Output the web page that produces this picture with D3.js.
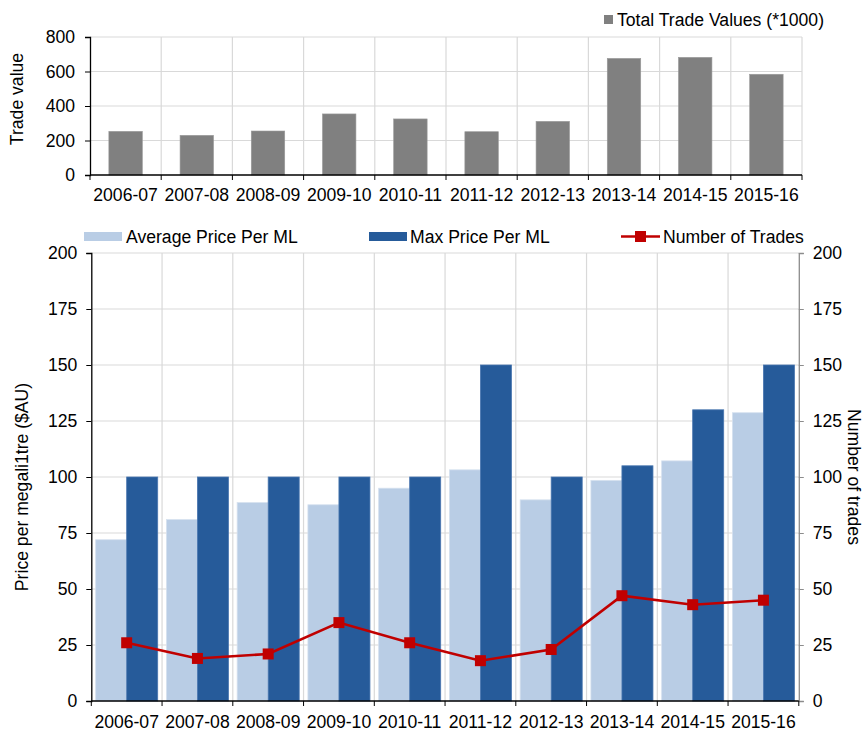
<!DOCTYPE html>
<html>
<head>
<meta charset="utf-8">
<script src="https://cdn.jsdelivr.net/npm/d3@7"></script>
<style>
  body { margin: 0; background: #fff; }
  svg { font-family: "Liberation Sans", Arial, sans-serif; }
  .tick text { font-family: "Liberation Sans", Arial, sans-serif; font-size: 17.6px; fill: #000; }
  .lbl { font-size: 17.6px; fill: #000; }
</style>
</head>
<body>
<svg id="chart" width="867" height="731"></svg>
<script>
// data
var years = ["2006-07", "2007-08", "2008-09", "2009-10", "2010-11",
             "2011-12", "2012-13", "2013-14", "2014-15", "2015-16"];
var tradeValues = [253, 230, 255, 354, 325, 251, 311, 676, 682, 584];
var avgPrice = [72, 81, 88.6, 87.6, 95, 103.2, 89.8, 98.5, 107.2, 128.7];
var maxPrice = [100, 100, 100, 100, 100, 150, 100, 105, 130, 150];
var numTrades = [26, 19, 21, 35, 26, 18, 23, 47, 43, 45];
var topTicks = [0, 200, 400, 600, 800];
var bottomTicks = [0, 25, 50, 75, 100, 125, 150, 175, 200];

var grid = "#d9d9d9", grey = "#808080", light = "#b9cde5", dark = "#265b9a", red = "#c00000";

var svg = d3.select("#chart");

// ---------- top chart ----------
var xt = d3.scaleBand().domain(years).range([90, 802]);
var yt = d3.scaleLinear().domain([0, 800]).range([175, 37]);

var topG = svg.append("g");
topG.selectAll(".hg").data(topTicks.slice(1)).enter().append("line")
  .attr("x1", 90).attr("x2", 802)
  .attr("y1", function(d) { return yt(d); }).attr("y2", function(d) { return yt(d); })
  .attr("stroke", grid).attr("stroke-width", 1.2);
topG.selectAll(".vg").data(years).enter().append("line")
  .attr("x1", function(d) { return xt(d) + xt.bandwidth(); })
  .attr("x2", function(d) { return xt(d) + xt.bandwidth(); })
  .attr("y1", yt(800)).attr("y2", yt(0))
  .attr("stroke", grid).attr("stroke-width", 1.2);

topG.selectAll(".bar").data(years).enter().append("rect")
  .attr("x", function(d) { return xt(d) + xt.bandwidth() * 0.265; })
  .attr("width", xt.bandwidth() * 0.47)
  .attr("y", function(d, i) { return yt(tradeValues[i]); })
  .attr("height", function(d, i) { return yt(0) - yt(tradeValues[i]); })
  .attr("fill", grey).attr("stroke", "#9a9a9a").attr("stroke-width", 0.6);

topG.append("g").attr("transform", "translate(90,0)")
  .call(d3.axisLeft(yt).tickValues(topTicks).tickSize(5).tickPadding(10))
  .call(function(g) { g.selectAll("line, path").attr("stroke", "#000"); g.select(".domain").attr("stroke-width", 1.3); });

var topX = topG.append("g").attr("transform", "translate(0,175)");
topX.append("line").attr("x1", 90).attr("x2", 802).attr("stroke", "#000").attr("stroke-width", 1.3);
topX.selectAll(".tk").data([0].concat(years)).enter().append("line")
  .attr("x1", function(d, i) { return i == 0 ? 90 : xt(d) + xt.bandwidth(); })
  .attr("x2", function(d, i) { return i == 0 ? 90 : xt(d) + xt.bandwidth(); })
  .attr("y1", 0).attr("y2", 5).attr("stroke", "#000");
topX.selectAll(".tl").data(years).enter().append("text")
  .attr("class", "lbl").attr("text-anchor", "middle")
  .attr("x", function(d) { return xt(d) + xt.bandwidth() / 2; })
  .attr("y", 25.5).text(function(d) { return d; });

topG.append("text").attr("class", "lbl").attr("text-anchor", "middle")
  .attr("transform", "translate(23,99) rotate(-90)").text("Trade value");

topG.append("rect").attr("x", 604).attr("y", 15).attr("width", 9).attr("height", 9).attr("fill", grey);
topG.append("text").attr("class", "lbl").attr("x", 617).attr("y", 26).text("Total Trade Values (*1000)");

// ---------- bottom chart ----------
var x = d3.scaleBand().domain(years).range([91.3, 798.8]);
var sub = d3.scaleBand().domain(["avg", "max"]).range([0, x.bandwidth()]).paddingInner(0).paddingOuter(0.14);
var y = d3.scaleLinear().domain([0, 200]).range([701, 253]);
var yr = d3.scaleLinear().domain([0, 200]).range([701, 253]);

var bot = svg.append("g");
bot.selectAll(".hg").data(bottomTicks.slice(1)).enter().append("line")
  .attr("x1", 91.3).attr("x2", 798.8)
  .attr("y1", function(d) { return y(d); }).attr("y2", function(d) { return y(d); })
  .attr("stroke", grid).attr("stroke-width", 1.2);
bot.selectAll(".vg").data(years.slice(0, -1)).enter().append("line")
  .attr("x1", function(d) { return x(d) + x.bandwidth(); })
  .attr("x2", function(d) { return x(d) + x.bandwidth(); })
  .attr("y1", y(200)).attr("y2", y(0))
  .attr("stroke", grid).attr("stroke-width", 1.2);

bot.selectAll(".avg").data(years).enter().append("rect")
  .attr("x", function(d) { return x(d) + sub("avg"); })
  .attr("width", sub.bandwidth())
  .attr("y", function(d, i) { return y(avgPrice[i]); })
  .attr("height", function(d, i) { return y(0) - y(avgPrice[i]); })
  .attr("fill", light).attr("stroke", "#d6e1ef").attr("stroke-width", 0.8);
bot.selectAll(".max").data(years).enter().append("rect")
  .attr("x", function(d) { return x(d) + sub("max"); })
  .attr("width", sub.bandwidth())
  .attr("y", function(d, i) { return y(maxPrice[i]); })
  .attr("height", function(d, i) { return y(0) - y(maxPrice[i]); })
  .attr("fill", dark).attr("stroke", "#4a77b0").attr("stroke-width", 0.8);

var line = d3.line()
  .x(function(d, i) { return x(years[i]) + x.bandwidth() / 2; })
  .y(function(d) { return yr(d); });
bot.append("path").datum(numTrades).attr("d", line)
  .attr("fill", "none").attr("stroke", red).attr("stroke-width", 2.6);
bot.selectAll(".mk").data(numTrades).enter().append("rect")
  .attr("x", function(d, i) { return x(years[i]) + x.bandwidth() / 2 - 5.5; })
  .attr("y", function(d) { return yr(d) - 5.5; })
  .attr("width", 11).attr("height", 11).attr("fill", red);

bot.append("g").attr("transform", "translate(91.3,0)")
  .call(d3.axisLeft(y).tickValues(bottomTicks).tickSize(5).tickPadding(9))
  .call(function(g) { g.selectAll("line, path").attr("stroke", "#000"); g.select(".domain").attr("stroke-width", 1.3); });
bot.append("g").attr("transform", "translate(798.8,0)")
  .call(d3.axisRight(yr).tickValues(bottomTicks).tickSize(5).tickPadding(9))
  .call(function(g) { g.selectAll("line, path").attr("stroke", "#8c8c8c"); g.select(".domain").attr("stroke-width", 1.3); });

var botX = bot.append("g").attr("transform", "translate(0,701)");
botX.append("line").attr("x1", 91.3).attr("x2", 798.8).attr("stroke", "#000").attr("stroke-width", 1.3);
botX.selectAll(".tk").data([0].concat(years)).enter().append("line")
  .attr("x1", function(d, i) { return i == 0 ? 91.3 : x(d) + x.bandwidth(); })
  .attr("x2", function(d, i) { return i == 0 ? 91.3 : x(d) + x.bandwidth(); })
  .attr("y1", 0).attr("y2", 5).attr("stroke", "#000");
botX.selectAll(".tl").data(years).enter().append("text")
  .attr("class", "lbl").attr("text-anchor", "middle")
  .attr("x", function(d) { return x(d) + x.bandwidth() / 2; })
  .attr("y", 27).text(function(d) { return d; });

bot.append("text").attr("class", "lbl").attr("text-anchor", "middle")
  .attr("transform", "translate(28,487) rotate(-90)").text("Price per megali1tre ($AU)");
bot.append("text").attr("class", "lbl").attr("text-anchor", "middle")
  .attr("transform", "translate(848,477) rotate(90)").text("Number of trades");

// legend
var leg = bot.append("g");
leg.append("rect").attr("x", 84).attr("y", 232).attr("width", 38).attr("height", 9).attr("fill", light);
leg.append("text").attr("class", "lbl").attr("x", 126).attr("y", 243).text("Average Price Per ML");
leg.append("rect").attr("x", 369).attr("y", 232).attr("width", 38).attr("height", 9).attr("fill", dark);
leg.append("text").attr("class", "lbl").attr("x", 410).attr("y", 243).text("Max Price Per ML");
leg.append("line").attr("x1", 621).attr("x2", 660).attr("y1", 236.5).attr("y2", 236.5)
  .attr("stroke", red).attr("stroke-width", 2.6);
leg.append("rect").attr("x", 635).attr("y", 231).attr("width", 11).attr("height", 11).attr("fill", red);
leg.append("text").attr("class", "lbl").attr("x", 663).attr("y", 243).text("Number of Trades");
</script>
</body>
</html>
